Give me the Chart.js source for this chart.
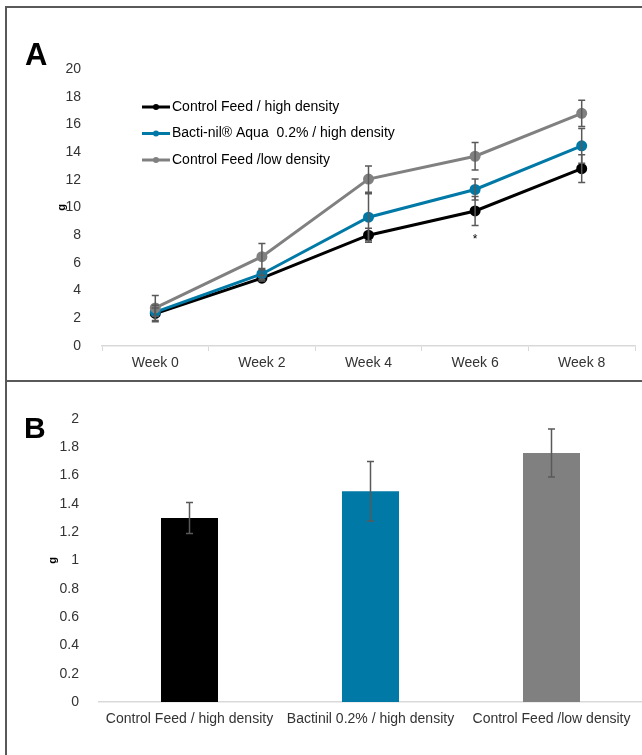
<!DOCTYPE html>
<html>
<head>
<meta charset="utf-8">
<script src="https://cdn.jsdelivr.net/npm/chart.js@4.4.1/dist/chart.umd.min.js"></script>
<style>
  body { margin:0; background:#fff; width:642px; height:755px; overflow:hidden; position:relative; font-family:"Liberation Sans", Arial, sans-serif; }
  canvas { position:absolute; left:0; }
  #chartA { top:0; }
  #chartB { top:380px; }
  .frame { position:absolute; background:#595959; }
</style>
</head>
<body>
<canvas id="chartA" width="642" height="380"></canvas>
<canvas id="chartB" width="642" height="375"></canvas>
<div class="frame" style="left:5px;top:6px;width:637px;height:2px"></div>
<div class="frame" style="left:5px;top:380px;width:637px;height:2px"></div>
<div class="frame" style="left:5px;top:6px;width:2px;height:749px"></div>

<script>
// ---- data panel A (growth over weeks) ----
const weeks = ["Week 0", "Week 2", "Week 4", "Week 6", "Week 8"];
const seriesNames = ["Control Feed / high density", "Bacti-nil\u00ae Aqua  0.2% / high density", "Control Feed /low density"];
const controlHigh = [2.35, 4.9, 8.0, 9.75, 12.8];
const bactinilHigh = [2.45, 5.2, 9.3, 11.3, 14.45];
const controlLow = [2.75, 6.45, 12.05, 13.7, 16.8];
const errControlHigh = [0.6, 0.2, 0.5, 1.05, 1.0];
const errBactinilHigh = [0.3, 0.4, 1.7, 0.75, 1.25];
const errControlLow = [0.9, 0.95, 0.95, 1.0, 0.95];
const yTicksA = [0, 2, 4, 6, 8, 10, 12, 14, 16, 18, 20];

// ---- data panel B (bars) ----
const groups = ["Control Feed / high density", "Bactinil 0.2% / high density", "Control Feed /low density"];
const gain = [1.3, 1.49, 1.76];
const gainErr = [0.11, 0.21, 0.17];
const yTicksB = [0, 0.2, 0.4, 0.6, 0.8, 1, 1.2, 1.4, 1.6, 1.8, 2];

const colors = ["#000000", "#0079a6", "#808080"];
const tickFont = { family: "'Liberation Sans', Arial, sans-serif", size: 14 };
const tickColor = "#333333";

// error bars, drawn with the chart scales
const errorBarPlugin = {
  id: "errorBars",
  afterDatasetsDraw(chart) {
    const ctx = chart.ctx;
    const yScale = chart.scales.y;
    chart.data.datasets.forEach((ds, i) => {
      if (!ds.errors) return;
      const meta = chart.getDatasetMeta(i);
      meta.data.forEach((el, j) => {
        const v = ds.data[j], e = ds.errors[j];
        const yHi = yScale.getPixelForValue(v + e);
        const yLo = yScale.getPixelForValue(v - e);
        const x = el.x;
        ctx.save();
        ctx.strokeStyle = "#595959";
        ctx.lineWidth = 1.5;
        ctx.beginPath();
        ctx.moveTo(x, yHi); ctx.lineTo(x, yLo);
        ctx.moveTo(x - 3.5, yHi); ctx.lineTo(x + 3.5, yHi);
        ctx.moveTo(x - 3.5, yLo); ctx.lineTo(x + 3.5, yLo);
        ctx.stroke();
        ctx.restore();
      });
    });
  }
};

function drawSideText(chart, letter, letterX, letterY, letterSize, gX) {
  const ctx = chart.ctx;
  const area = chart.chartArea;
  ctx.save();
  ctx.fillStyle = "#000";
  ctx.font = "bold " + letterSize + "px 'Liberation Sans', Arial, sans-serif";
  ctx.textBaseline = "alphabetic";
  ctx.fillText(letter, letterX, letterY);
  // y axis title "g"
  ctx.translate(gX, (area.top + area.bottom) / 2);
  ctx.rotate(-Math.PI / 2);
  ctx.font = "bold 11px 'Liberation Sans', Arial, sans-serif";
  ctx.textAlign = "center";
  ctx.textBaseline = "middle";
  ctx.fillText("g", 0, 0);
  ctx.restore();
}

const panelAPlugin = {
  id: "panelA",
  afterDraw(chart) {
    const ctx = chart.ctx;
    const area = chart.chartArea;
    drawSideText(chart, "A", 25, 65, 31, 62);

    // legend inside plot
    chart.data.datasets.forEach((ds, i) => {
      const lx = area.left + 40;
      const ly = area.top + 38 + i * 26.5;
      ctx.save();
      ctx.strokeStyle = ds.borderColor;
      ctx.fillStyle = ds.borderColor;
      ctx.lineWidth = 3;
      ctx.beginPath();
      ctx.moveTo(lx, ly); ctx.lineTo(lx + 28, ly);
      ctx.stroke();
      ctx.beginPath();
      ctx.arc(lx + 14, ly, 3, 0, Math.PI * 2);
      ctx.fill();
      ctx.fillStyle = "#000";
      ctx.font = "14px 'Liberation Sans', Arial, sans-serif";
      ctx.textBaseline = "middle";
      ctx.fillText(seriesNames[i], lx + 30, ly);
      ctx.restore();
    });

    // significance mark under week 6
    const ds = chart.data.datasets[0];
    const xw6 = chart.getDatasetMeta(0).data[3].x;
    const yLo = chart.scales.y.getPixelForValue(ds.data[3] - ds.errors[3]);
    ctx.save();
    ctx.fillStyle = "#000";
    ctx.font = "12px 'Liberation Sans', Arial, sans-serif";
    ctx.textAlign = "center";
    ctx.textBaseline = "middle";
    ctx.fillText("*", xw6, yLo + 14);
    ctx.restore();
  }
};

const panelBPlugin = {
  id: "panelB",
  afterDraw(chart) {
    drawSideText(chart, "B", 24, 58, 30, 53);
  }
};

new Chart(document.getElementById("chartA"), {
  type: "line",
  data: {
    labels: weeks,
    datasets: [
      { label: seriesNames[0], data: controlHigh, errors: errControlHigh, borderColor: colors[0], backgroundColor: colors[0], order: 3 },
      { label: seriesNames[1], data: bactinilHigh, errors: errBactinilHigh, borderColor: colors[1], backgroundColor: colors[1], order: 2 },
      { label: seriesNames[2], data: controlLow, errors: errControlLow, borderColor: colors[2], backgroundColor: colors[2], order: 1 }
    ].map(d => Object.assign(d, { borderWidth: 3, pointRadius: 4, pointHoverRadius: 4, tension: 0 }))
  },
  options: {
    responsive: false,
    animation: false,
    layout: { padding: { left: 0, right: 2.5, top: 69, bottom: 0 } },
    plugins: { legend: { display: false }, tooltip: { enabled: false } },
    scales: {
      x: {
        offset: true,
        grid: { offset: true, drawOnChartArea: false, drawTicks: true, tickLength: 5, color: "#d9d9d9" },
        border: { color: "#d9d9d9", width: 1.5 },
        ticks: { font: tickFont, color: tickColor, padding: 4, maxRotation: 0 },
        afterFit(s) { s.height = 34; }
      },
      y: {
        min: 0, max: 20,
        afterBuildTicks(s) { s.ticks = yTicksA.map(v => ({ value: v })); },
        grid: { display: false },
        border: { display: false },
        ticks: { font: tickFont, color: tickColor, padding: 13, callback: v => String(v) },
        afterFit(s) { s.width = 102; }
      }
    }
  },
  plugins: [errorBarPlugin, panelAPlugin]
});

new Chart(document.getElementById("chartB"), {
  type: "bar",
  data: {
    labels: groups,
    datasets: [{
      data: gain,
      errors: gainErr,
      backgroundColor: colors,
      borderWidth: 0,
      barPercentage: 0.315,
      categoryPercentage: 1
    }]
  },
  options: {
    responsive: false,
    animation: false,
    layout: { padding: { left: 0, right: 0, top: 39, bottom: 0 } },
    plugins: { legend: { display: false }, tooltip: { enabled: false } },
    scales: {
      x: {
        grid: { display: false, drawTicks: false },
        border: { color: "#d9d9d9", width: 1.5 },
        ticks: { font: tickFont, color: tickColor, padding: 9, maxRotation: 0, autoSkip: false },
        afterFit(s) { s.height = 53; }
      },
      y: {
        min: 0, max: 2,
        afterBuildTicks(s) { s.ticks = yTicksB.map(v => ({ value: v })); },
        grid: { display: false },
        border: { display: false },
        ticks: { font: tickFont, color: tickColor, padding: 12, callback: v => String(Math.round(v * 10) / 10) },
        afterFit(s) { s.width = 99; }
      }
    }
  },
  plugins: [errorBarPlugin, panelBPlugin]
});
</script>
</body>
</html>
